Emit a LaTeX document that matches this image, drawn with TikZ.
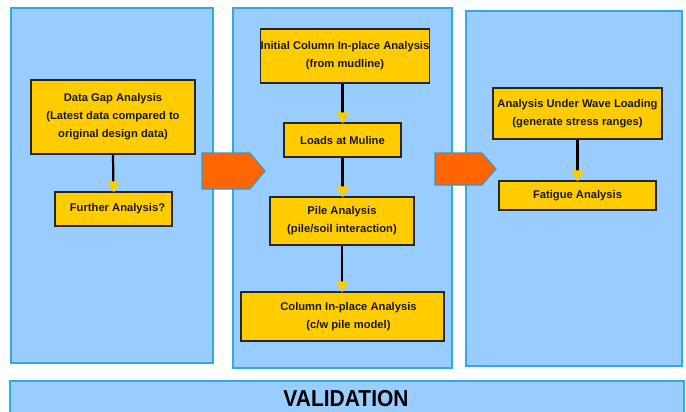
\documentclass[tikz,border=0pt]{standalone}
\usepackage{fontspec}
\setmainfont{Liberation Sans}
\usetikzlibrary{arrows.meta}
\definecolor{panelfill}{HTML}{99CCFF}
\definecolor{paneledge}{HTML}{33AADD}
\definecolor{boxfill}{HTML}{FFCC00}
\definecolor{arrowfill}{HTML}{FF6600}
\definecolor{arrowedge}{HTML}{3399CC}
\tikzset{
  panel/.style={fill=panelfill, draw=paneledge, line width=1.2pt},
  stepbox/.style={fill=boxfill, draw=black!85, line width=1.1pt, inner sep=0pt,
    align=center, font=\bfseries\fontsize{11.2}{18}\selectfont, text=black!90},
  flow/.style={draw=black, line width=2.2pt,
    -{Triangle[width=12pt,length=11pt,color=boxfill]}, shorten >=-1pt},
  bigarrow/.style={fill=arrowfill, draw=arrowedge, line width=1.1pt},
}
\begin{document}
\begin{tikzpicture}[x=1pt,y=-1pt]
\useasboundingbox (0,0) rectangle (686,412);
\clip (0,0) rectangle (686,412);
\fill[white] (0,0) rectangle (686,412);
% panels
\draw[panel] (11,8) rectangle (213,363);
\draw[panel] (233,8) rectangle (452,368);
\draw[panel] (466,11) rectangle (682,366);
\draw[panel] (10,381) rectangle (684,420);
\node[font=\bfseries\fontsize{21}{21}\selectfont, yscale=1.1] (val) at (346,399) {VALIDATION};
% big arrows
\draw[bigarrow] (202,153) -- (250,153) -- (265,171) -- (250,189) -- (202,189) -- cycle;
\draw[bigarrow] (435,153) -- (482,153) -- (496,169) -- (482,185) -- (435,185) -- cycle;
% boxes
\node[stepbox, minimum width=164pt, minimum height=74pt] (dga) at (113,117)
  {Data Gap Analysis\\(Latest data compared to\\original design data)};
\node[stepbox, minimum width=117pt, minimum height=34pt] (fa) at (113.5,209)
  {\hspace*{8pt}Further Analysis?};
\node[stepbox, minimum width=168pt, minimum height=54pt] (icia) at (345,56)
  {Initial Column In-place Analysis\\(from mudline)};
\node[stepbox, minimum width=117pt, minimum height=34pt] (lam) at (342.5,140)
  {Loads at Muline};
\node[stepbox, minimum width=144pt, minimum height=48pt] (pa) at (342,221)
  {Pile Analysis\\(pile/soil interaction)};
\node[stepbox, minimum width=203pt, minimum height=49pt] (cipa) at (342.5,316.5)
  {\hspace*{12pt}Column In-place Analysis\\\hspace*{12pt}(c/w pile model)};
\node[stepbox, minimum width=169pt, minimum height=51pt] (auwl) at (577.5,113.5)
  {Analysis Under Wave Loading\\(generate stress ranges)};
\node[stepbox, minimum width=157pt, minimum height=29pt] (fat) at (577.5,195.5)
  {Fatigue Analysis};
% connectors
\draw[flow] (dga.south) -- (fa.north);
\draw[flow] (icia.south -| lam.north) -- (lam.north);
\draw[flow] (lam.south) -- (pa.north -| lam.south);
\draw[flow] (pa.south) -- (cipa.north -| pa.south);
\draw[flow] (auwl.south) -- (fat.north);
\end{tikzpicture}
\end{document}
